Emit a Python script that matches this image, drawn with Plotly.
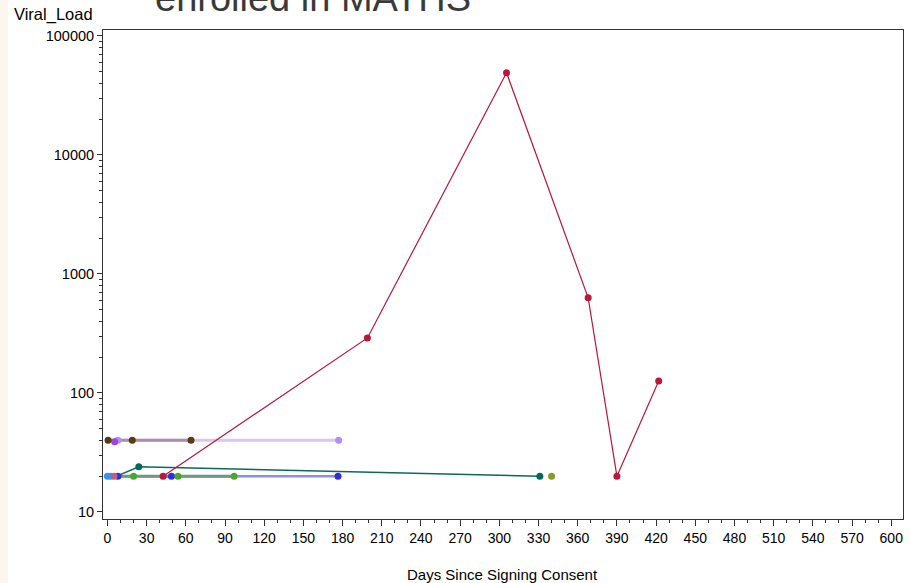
import plotly.graph_objects as go

# ---- data ----
red_days = [5, 42.6, 199, 305.5, 368, 390, 422]
red_vl = [20, 20, 290, 49000, 630, 20, 126]

brown_days = [0.5, 19, 64]
brown_vl = [40, 40, 40]

lav_days = [8, 177]
lav_vl = [40, 40]

purple_days = [5.5]
purple_vl = [39]

teal_days = [7, 24, 331]
teal_vl = [20, 24, 20]

green_days = [0, 20, 54, 97]
green_vl = [20, 20, 20, 20]

blue_days = [8, 49, 176.5]
blue_vl = [20, 20, 20]

ltblue_days = [0, 2.5]
ltblue_vl = [20, 20]

olive_days = [340]
olive_vl = [20]

x_ticks = list(range(0, 601, 30))
y_ticks = [10, 100, 1000, 10000, 100000]
y_ticklabels = ["10", "100", "1000", "10000", "100000"]

fig = go.Figure()

# lines first
line_specs = [
    (lav_days, lav_vl, "#D8C6F4", 3),
    (brown_days, brown_vl, "#AC8FAC", 3),
    (blue_days, blue_vl, "#8E8EF0", 2.5),
    (green_days, green_vl, "#6C9A80", 3),
    (teal_days, teal_vl, "#0B6A5C", 1.5),
    (red_days[1:], red_vl[1:], "#B8183C", 1.2),
]
for xs, ys, c, w in line_specs:
    fig.add_trace(go.Scatter(x=xs, y=ys, mode="lines", line=dict(color=c, width=w),
                             showlegend=False, hoverinfo="skip"))

# markers on top
marker_specs = [
    (lav_days, lav_vl, "#B48EF3"),
    (purple_days, purple_vl, "#9A46E6"),
    (brown_days, brown_vl, "#5A3A16"),
    (ltblue_days, ltblue_vl, "#3594F0"),
    (blue_days, blue_vl, "#2E2EE0"),
    (green_days[1:], green_vl[1:], "#4AA828"),
    (teal_days[1:], teal_vl[1:], "#006A5A"),
    (olive_days, olive_vl, "#8A9A22"),
    (red_days[:1], red_vl[:1], "#BC6080"),
    (red_days[1:], red_vl[1:], "#B8183C"),
]
for xs, ys, c in marker_specs:
    fig.add_trace(go.Scatter(x=xs, y=ys, mode="markers",
                             marker=dict(color=c, size=7, line=dict(width=0)),
                             showlegend=False))

font_family = "Liberation Sans Narrow, Liberation Sans, Arial, sans-serif"
T, B = 30, 64
PH = 583 - T - B

fig.update_layout(
    width=911, height=583,
    margin=dict(l=103, r=8, t=T, b=B),
    paper_bgcolor="white", plot_bgcolor="white",
    font=dict(family="Liberation Sans, Arial, sans-serif", color="#000000"),
    xaxis=dict(
        range=[-3.4, 609], automargin=False,
        tickmode="array", tickvals=x_ticks, ticktext=[str(v) for v in x_ticks],
        ticks="outside", ticklen=6, tickcolor="#333", tickwidth=1,
        minor=dict(ticks="outside", ticklen=3, dtick=10, tick0=0, tickcolor="#333", showgrid=False),
        showgrid=False, zeroline=False,
        showline=True, linecolor="#333", linewidth=1, mirror=True,
        tickfont=dict(family=font_family, size=14),
    ),
    yaxis=dict(
        type="log", range=[0.941, 5.05], automargin=False,
        tickmode="array", tickvals=y_ticks, ticktext=y_ticklabels,
        ticks="outside", ticklen=5, tickcolor="#333", tickwidth=1,
        minor=dict(ticks="outside", ticklen=3, tickcolor="#333", showgrid=False,
                   tickvals=[m * 10 ** e for e in range(1, 5) for m in range(2, 10)]),
        showgrid=False, zeroline=False,
        showline=True, linecolor="#333", linewidth=1, mirror=True,
        tickfont=dict(size=14.5),
    ),
    shapes=[
        dict(type="rect", xref="paper", yref="paper", x0=-103 / 800, x1=-95 / 800,
             y0=-B / PH, y1=1 + T / PH, fillcolor="#FBF6EE", line=dict(width=0), layer="below"),
    ],
    annotations=[
        dict(text="Viral_Load", xref="paper", yref="paper", x=-0.0625, y=1 + 15 / PH,
             xanchor="center", yanchor="middle", showarrow=False, font=dict(size=16.5)),
        dict(text="Days Since Signing Consent", xref="paper", yref="paper",
             x=(502 - 103) / 800, y=-(574 - (583 - B)) / PH,
             xanchor="center", yanchor="middle", showarrow=False,
             font=dict(family=font_family, size=15)),
        dict(text="enrolled in MATHS", xref="paper", yref="paper", x=(153 - 103) / 800, y=1 + 9 / PH,
             xanchor="left", yanchor="bottom", showarrow=False,
             font=dict(size=38, color="#3a3a3a", family="Liberation Sans, Arial, sans-serif")),
    ],
)

fig.write_html("out.html", config={"displayModeBar": False},
               post_script="document.body.style.margin='0';document.body.style.padding='0';")
